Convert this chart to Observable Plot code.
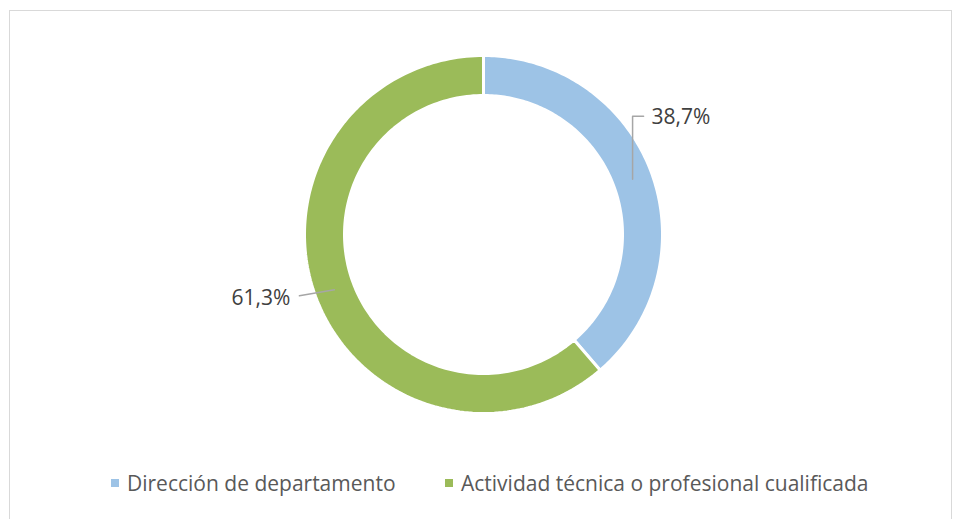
<!DOCTYPE html>
<html><head><meta charset="utf-8">
<script src="https://cdn.jsdelivr.net/npm/d3@7"></script>
<script src="https://cdn.jsdelivr.net/npm/@observablehq/plot@0.6"></script>
<style>
body{margin:0;background:#fff;font-family:"Open Sans",sans-serif;}
#wrap{position:relative;width:954px;height:519px;overflow:hidden;background:#fff}
#frame{position:absolute;left:9px;top:10px;width:943px;height:530px;border:1px solid #d9d9d9;box-sizing:border-box}
#chart{position:absolute;left:0;top:0}
#legend{position:absolute;left:0;top:460px;width:954px;height:59px}
.item{position:absolute;top:10px;height:26px;display:flex;align-items:center;font-size:21px;color:#595959;white-space:nowrap}
.sw{width:8px;height:8px;margin-right:8px}
</style>
</head><body>
<div id="wrap"><div id="frame"></div><div id="chart"></div><div id="legend"></div></div>
<script>
const categories = ["Dirección de departamento", "Actividad técnica o profesional cualificada"];
const values = [38.7, 61.3];
const valueLabels = ["38,7%", "61,3%"];
const colors = ["#9DC3E6", "#9BBB59"];

// layout (pixels)
const W = 954, H = 460, CX = 483, CY = 234, R = 179, RI = 139;
const legendX = [111, 445];
// leader geometry offsets relative to slice mid-ring point, in px (dx right, dy down)
const leaderPath = [[[0,0],[0,-63],[11,-63]], [[0,0],[-35,6]]];
const labelPos = [{dx:19, dy:-62, anchor:"start"}, {dx:-44, dy:8, anchor:"end"}];

const pie = d3.pie().sort(null).value(d => d)(values);
const N = 160;
const polys = [];
pie.forEach((p, i) => {
  const a0 = p.startAngle, a1 = p.endAngle;
  const pts = [];
  for (let k = 0; k <= N; k++) { const a = a0 + (a1 - a0) * k / N; pts.push([Math.sin(a), Math.cos(a)]); }
  for (let k = N; k >= 0; k--) { const a = a0 + (a1 - a0) * k / N; pts.push([RI / R * Math.sin(a), RI / R * Math.cos(a)]); }
  pts.push(pts[0]);
  pts.forEach(([x, y]) => polys.push({cat: categories[i], x, y}));
});

const mid = pie.map(p => (p.startAngle + p.endAngle) / 2);
const rm = (R + RI) / 2 / R;
const leaders = [];
const labels = [];
pie.forEach((p, i) => {
  const sx = rm * Math.sin(mid[i]), sy = rm * Math.cos(mid[i]);
  leaderPath[i].forEach(([dx, dy]) => leaders.push({i, x: sx + dx / R, y: sy - dy / R}));
  labels.push({i, text: valueLabels[i], x: sx + labelPos[i].dx / R, y: sy - labelPos[i].dy / R, anchor: labelPos[i].anchor});
});

const chart = Plot.plot({
  width: W, height: H, margin: 0,
  x: {domain: [-CX / R, (W - CX) / R], range: [0, W], axis: null},
  y: {domain: [-(H - CY) / R, CY / R], range: [H, 0], axis: null},
  color: {domain: categories, range: colors},
  style: {background: "transparent", fontFamily: "Open Sans, sans-serif"},
  marks: [
    Plot.line(polys, {x: "x", y: "y", z: "cat", fill: "cat", stroke: "white", strokeWidth: 3, curve: "linear"}),
    Plot.line(leaders, {x: "x", y: "y", z: "i", stroke: "#A6A6A6", strokeWidth: 1.5}),
    Plot.text(labels.filter(d => d.anchor === "start"), {x: "x", y: "y", text: "text", textAnchor: "start", fontSize: 21, fill: "#404040"}),
    Plot.text(labels.filter(d => d.anchor === "end"), {x: "x", y: "y", text: "text", textAnchor: "end", fontSize: 21, fill: "#404040"})
  ]
});
document.getElementById("chart").appendChild(chart);

const leg = document.getElementById("legend");
categories.forEach((c, i) => {
  const it = document.createElement("div");
  it.className = "item"; it.style.left = legendX[i] + "px";
  const sw = document.createElement("span"); sw.className = "sw"; sw.style.background = colors[i];
  const t = document.createElement("span"); t.textContent = c;
  it.appendChild(sw); it.appendChild(t); leg.appendChild(it);
});
</script>
</body></html>
